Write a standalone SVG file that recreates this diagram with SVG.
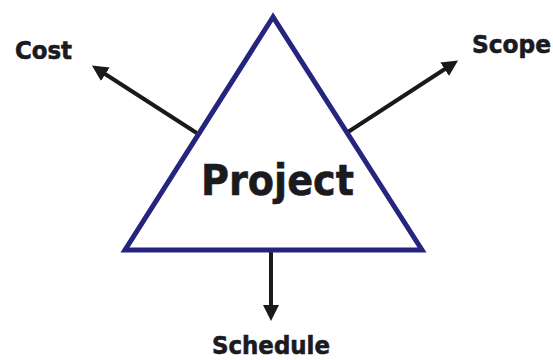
<svg xmlns="http://www.w3.org/2000/svg" width="553" height="360" viewBox="0 0 553 360">
<defs>
<style>
.lbl{font-family:"DejaVu Sans","Liberation Sans",sans-serif;font-weight:bold;fill:#1a1a1f;stroke:#1a1a1f;stroke-width:0.6}
.conn{stroke:#1a1a1a;stroke-width:4;fill:none}
</style>
<marker id="ah" markerWidth="4" markerHeight="4" refX="1" refY="2" orient="auto" markerUnits="strokeWidth">
<path d="M0,0 L4,2 L0,4 Z" fill="#1a1a1a"/>
</marker>
</defs>
<rect width="553" height="360" fill="#ffffff"/>
<g id="connectors">
<line class="conn" x1="196.7" y1="133" x2="102" y2="72" marker-end="url(#ah)"/>
<line class="conn" x1="348" y1="132" x2="448" y2="67" marker-end="url(#ah)"/>
<line class="conn" x1="271" y1="251" x2="271" y2="309" marker-end="url(#ah)"/>
</g>
<g id="project">
<polygon points="273,17 125,250 422,250" fill="#ffffff" stroke="#252580" stroke-width="5" stroke-linejoin="miter"/>
<text class="lbl" x="201" y="195" font-size="43" textLength="153" lengthAdjust="spacingAndGlyphs">Project</text>
</g>
<g id="cost">
<text class="lbl" x="15" y="59" font-size="24" textLength="57" lengthAdjust="spacingAndGlyphs">Cost</text>
</g>
<g id="scope">
<text class="lbl" x="472" y="53" font-size="24" textLength="79" lengthAdjust="spacingAndGlyphs">Scope</text>
</g>
<g id="schedule">
<text class="lbl" x="212" y="354" font-size="24" textLength="118" lengthAdjust="spacingAndGlyphs">Schedule</text>
</g>
</svg>
